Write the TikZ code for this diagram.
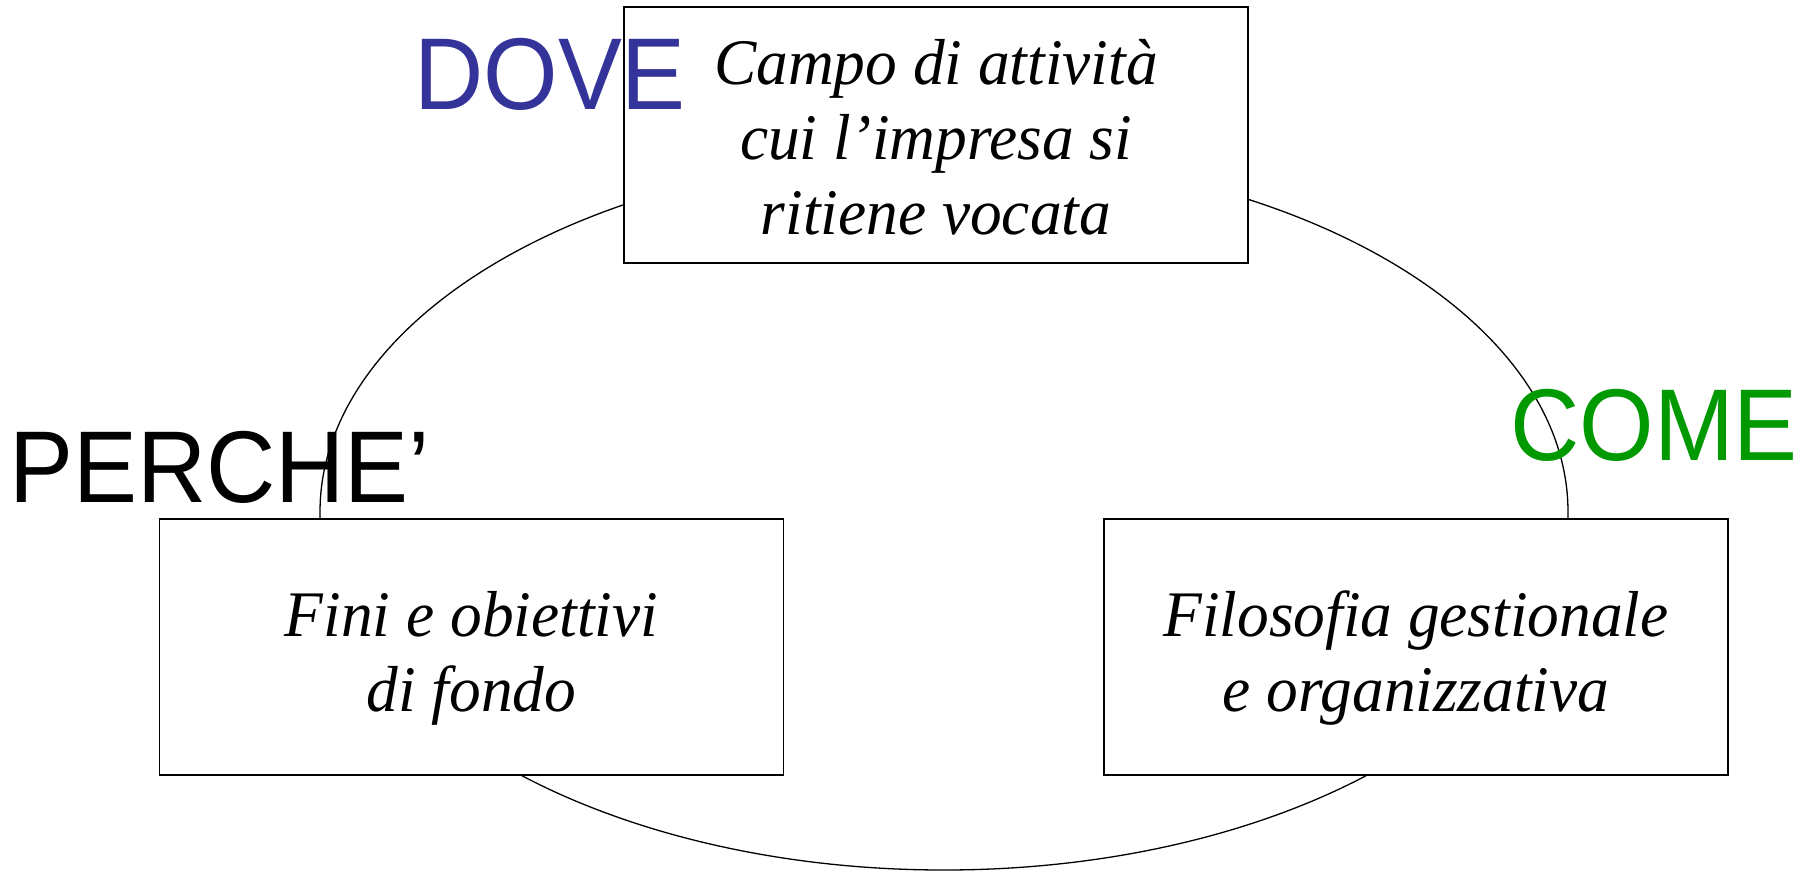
\documentclass[tikz,border=0pt]{standalone}
\usepackage{fontspec}
\setmainfont{Liberation Serif}
\newfontfamily\labelsans{Liberation Sans}
\definecolor{doveblue}{RGB}{51,51,153}
\definecolor{comegreen}{RGB}{0,153,0}
\tikzset{
  box/.style={draw=black, line width=1.6pt, fill=white, rectangle,
    minimum width=624pt, minimum height=256pt, inner sep=0pt},
  boxtext/.style={align=center, inner sep=0pt, xscale=0.975,
    font=\fontsize{65}{75}\selectfont\itshape},
  biglabel/.style={inner sep=0pt, anchor=base west, xscale=0.94,
    font=\fontsize{102}{114}\selectfont\labelsans},
  ring/.style={draw=black, line width=1.3pt}
}
\begin{document}
\begin{tikzpicture}[x=1pt,y=-1pt]
\useasboundingbox (0,0) rectangle (1804,871);
% ring behind the boxes
\draw[ring] (944,512) ellipse [x radius=624, y radius=358];
% boxes
\node[box] (dove) at (936,135) {};
\node[box] (perche) at (471.5,647) {};
\node[box] (come) at (1416,647) {};
% box texts
\node[boxtext] (dovetext) at ([yshift=-2pt]dove.center) {Campo di attività\\cui l’impresa si\\ritiene vocata};
\node[boxtext] (perchetext) at ([yshift=-11pt]perche.center) {Fini e obiettivi\\di fondo};
\node[boxtext] (cometext) at ([yshift=-11pt]come.center) {Filosofia gestionale\\e organizzativa};
% big labels
\node[biglabel, text=doveblue] (dovelabel) at (414,109) {DOVE};
\node[biglabel, text=black] (perchelabel) at (9,502) {PERCHE’};
\node[biglabel, text=comegreen] (comelabel) at (1510,460) {COME};
\end{tikzpicture}
\end{document}
